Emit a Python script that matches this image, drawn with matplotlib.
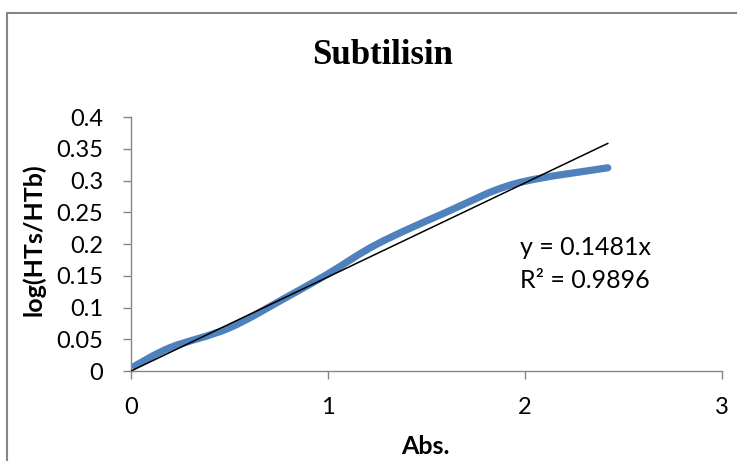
import matplotlib.pyplot as plt
import matplotlib.patches as mpatches
from matplotlib.path import Path
import numpy as np

# measured points
abs_vals = [0.02, 0.2, 0.5, 0.8, 1.0, 1.25, 1.6, 1.95, 2.42]
log_ratio = [0.008, 0.037, 0.068, 0.118, 0.153, 0.200, 0.250, 0.295, 0.320]

slope = 0.1481
r_squared = 0.9896

blue = '#4F81BD'
grey = '#868686'


def smooth_path(xs, ys, tension=0.5):
    # cubic bezier segments through each point (Excel-style smoothed line)
    pts = np.column_stack([xs, ys])
    verts = [pts[0]]
    codes = [Path.MOVETO]
    n = len(pts)
    for i in range(n - 1):
        p0 = pts[i - 1] if i > 0 else pts[i]
        p1 = pts[i]
        p2 = pts[i + 1]
        p3 = pts[i + 2] if i + 2 < n else pts[i + 1]
        c1 = p1 + (p2 - p0) * tension / 3
        c2 = p2 - (p3 - p1) * tension / 3
        verts += [c1, c2, p2]
        codes += [Path.CURVE4] * 3
    return Path(verts, codes)


fig = plt.figure(figsize=(7.37, 4.61), dpi=100)
ax = fig.add_axes([0.1777, 0.1952, 0.802, 0.551])

# outer chart frame
frame = mpatches.Rectangle((7 / 737, -0.1), 1.2, 1.0 - 13 / 461 + 0.1,
                           transform=fig.transFigure, fill=False,
                           edgecolor=grey, linewidth=1.5)
fig.add_artist(frame)

ax.add_patch(mpatches.PathPatch(smooth_path(abs_vals, log_ratio), fill=False,
                                edgecolor=blue, linewidth=5.2,
                                capstyle='round', joinstyle='round', zorder=2))

# linear trendline through origin
x_fit = np.array([0, max(abs_vals)])
ax.plot(x_fit, slope * x_fit, color='black', linewidth=1.1, zorder=3)

ax.set_xlim(0, 3)
ax.set_ylim(0, 0.4)
ax.set_xticks([0, 1, 2, 3])
ax.set_yticks(np.arange(0, 0.401, 0.05))
ax.set_yticklabels(['0', '0.05', '0.1', '0.15', '0.2', '0.25', '0.3', '0.35', '0.4'])

for side in ['top', 'right']:
    ax.spines[side].set_visible(False)
for side in ['left', 'bottom']:
    ax.spines[side].set_color(grey)
    ax.spines[side].set_linewidth(1.0)
ax.tick_params(direction='out', length=6, width=1.0, color=grey,
               labelsize=17, pad=5)
for lab in ax.get_xticklabels() + ax.get_yticklabels():
    lab.set_family('Lato')
ax.tick_params(axis='x', pad=13)
ax.tick_params(axis='y', pad=14)

ax.set_xlabel('Abs.', fontsize=18, fontweight='bold', family='Lato', va='center')
ax.set_ylabel('log(HTs/HTb)', fontsize=18, fontweight='bold', family='Lato', va='center')
ax.xaxis.set_label_coords((425 - 131) / 591, (371 - 446) / 254)
ax.yaxis.set_label_coords((34 - 131) / 591, 0.5 - (240 - 244) / 254)

fig.text(383 / 737, 1 - 55 / 461, 'Subtilisin', fontsize=25, fontweight='bold',
         family='Liberation Serif', ha='center', va='center')

ax.text(1.975, 0.194, 'y = 0.1481x', fontsize=18, family='Lato', ha='left', va='center')
ax.text(1.975, 0.142, 'R² = 0.9896', fontsize=18, family='Lato', ha='left', va='center')

fig.savefig('out.png', dpi=100)
